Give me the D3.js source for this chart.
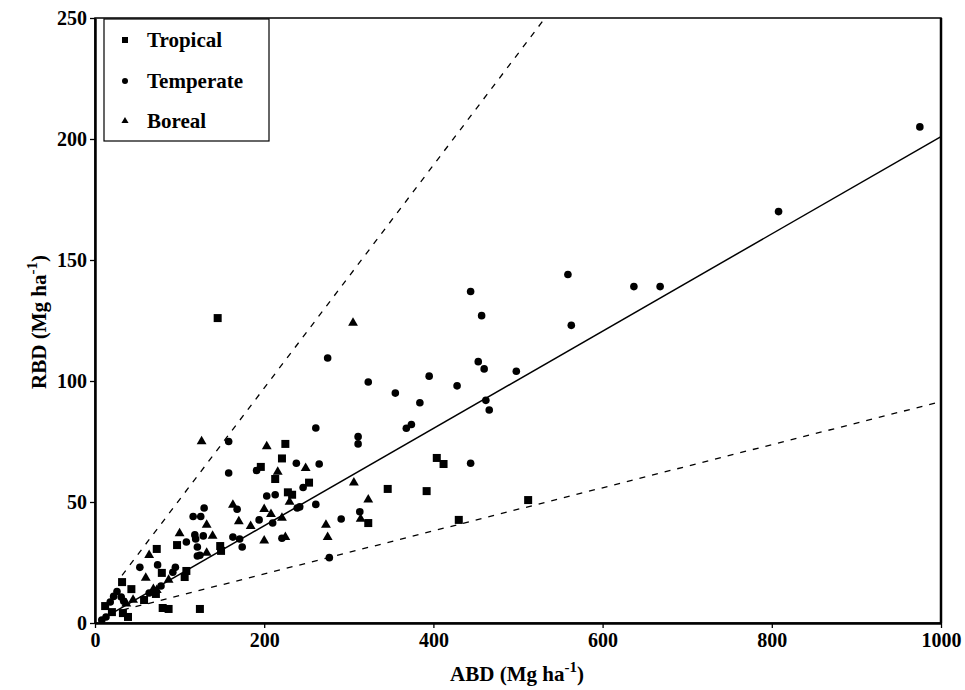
<!DOCTYPE html>
<html><head><meta charset="utf-8">
<script src="https://cdn.jsdelivr.net/npm/d3@7"></script>
<style>body{margin:0;background:#fff}svg text{font-family:"Liberation Serif","Times New Roman",serif;font-weight:bold}</style>
</head><body><svg id="c" width="965" height="690"></svg>
<script>
const xTicks=[0,200,400,600,800,1000];
const yTicks=[0,50,100,150,200,250];
const tropical=[[145,126],[225,74],[221,68],[196,64.5],[213,59.5],[228,54],[233,53],[253,58],[323,41.3],[346,55.4],[392,54.5],[404,68.2],[412,65.7],[430,42.6],[512,50.8],[148,31.8],[149,29.8],[108,21.5],[106,19],[124,5.8],[73,30.6],[97,32.2],[79,20.7],[32,16.9],[43,14],[72,12],[58,9.5],[12,7],[33,4.1],[39,2.5],[80,6.2],[87,5.8],[20,4.5]];
const temperate=[[975,205],[808,170],[668,139],[637,139],[559,144],[563,123],[444,137],[457,127],[498,104],[453,108],[460,105],[462,92],[466,88],[428,98],[395,102],[384,91],[368,80.5],[374,82],[444,66],[355,95],[323,99.6],[275,109.5],[261,80.6],[311,77],[311,74],[238,66],[265,65.7],[246,56],[239,47.5],[242,48],[261,49],[291,43],[313,46],[277,27],[221,35],[158,75],[158,62],[191,63],[203,52.5],[213,53],[168,47],[129,47.5],[116,44],[125,44],[128,36],[118,36.4],[119,34.7],[163,35.5],[171,34.7],[174,31.4],[194,42.6],[210,41.3],[121,27.7],[121,31.4],[108,33.5],[53,23],[74,24],[95,23],[124,28],[78,15.3],[64,12.4],[26,13],[31,10.7],[34,9],[22,11],[18,8.7],[92,21],[13,2.5],[8,1.2]];
const boreal=[[305,124],[126,75],[203,73],[216,62.4],[249,64],[306,58],[323,51],[314,43],[273,40.5],[275,35.5],[230,50],[221,43.4],[225,35.5],[163,48.8],[200,47],[208,45],[170,42],[184,40],[132,40.5],[139,36],[200,34],[100,37],[132,29],[64,28],[60,18.6],[87,17.8],[69,14],[73,13.6],[45,9.5],[37,8]];
const fitLine=[[5,1],[1000,201]];
const upperLine=[[32,19.7],[532,250]];
const lowerLine=[[33,5.4],[1000,91.5]];
const legendLabels=["Tropical","Temperate","Boreal"];

const svg=d3.select("#c");
const L=95,R=941,T=18,B=623;
const x=d3.scaleLinear().domain([0,1000]).range([L,R]);
const y=d3.scaleLinear().domain([0,250]).range([B,T]);
const line=d3.line().x(d=>x(d[0])).y(d=>y(d[1]));

svg.append("path").datum(fitLine).attr("d",line).attr("stroke","#000").attr("stroke-width",1.5).attr("fill","none");
[upperLine,lowerLine].forEach(l=>svg.append("path").datum(l).attr("d",line).attr("stroke","#000").attr("stroke-width",1.3).attr("stroke-dasharray","6,7").attr("fill","none"));

const g=svg.append("g");
g.selectAll(".sq").data(tropical).join("rect").attr("x",d=>x(d[0])-4).attr("y",d=>y(d[1])-4).attr("width",8).attr("height",8).attr("fill","#000");
g.selectAll(".ci").data(temperate).join("circle").attr("cx",d=>x(d[0])).attr("cy",d=>y(d[1])).attr("r",3.8).attr("fill","#000");
const tri=d3.symbol().type(d3.symbolTriangle).size(42);
g.selectAll(".tr").data(boreal).join("path").attr("d",tri).attr("transform",d=>`translate(${x(d[0])},${y(d[1])})`).attr("fill","#000");

// frame
svg.append("rect").attr("x",L).attr("y",T).attr("width",R-L).attr("height",B-T).attr("fill","none").attr("stroke","#000").attr("stroke-width",1.5);
svg.append("line").attr("x1",R).attr("x2",R).attr("y1",T).attr("y2",B).attr("stroke","#000").attr("stroke-width",2.5);

const xa=svg.append("g").attr("transform",`translate(0,${B})`).call(d3.axisBottom(x).tickValues(xTicks).tickFormat(d3.format("d")).tickSize(5).tickSizeOuter(0).tickPadding(5));
const ya=svg.append("g").attr("transform",`translate(${L},0)`).call(d3.axisLeft(y).tickValues(yTicks).tickFormat(d3.format("d")).tickSize(5).tickSizeOuter(0).tickPadding(3));
[xa,ya].forEach(a=>{a.select(".domain").attr("stroke-width",2.5);a.selectAll(".tick line").attr("stroke-width",1.3);a.selectAll("text").attr("font-size",20).attr("font-family","Liberation Serif").attr("font-weight","bold").attr("fill","#000");});

// titles
const xt=svg.append("text").attr("x",517).attr("y",681).attr("text-anchor","middle").attr("font-size",21);
xt.append("tspan").text("ABD (Mg ha");
xt.append("tspan").attr("dy",-9).attr("font-size",15).text("-1");
xt.append("tspan").attr("dy",9).text(")");
const yt=svg.append("text").attr("transform","translate(46,322) rotate(-90)").attr("text-anchor","middle").attr("font-size",21);
yt.append("tspan").text("RBD (Mg ha");
yt.append("tspan").attr("dy",-9).attr("font-size",15).text("-1");
yt.append("tspan").attr("dy",9).text(")");

// legend
svg.append("rect").attr("x",104).attr("y",19).attr("width",165).attr("height",122).attr("fill","#fff").attr("stroke","#000").attr("stroke-width",1.2);
const lg=svg.append("g");
const ly=[40,81,121];
lg.append("rect").attr("x",122).attr("y",ly[0]-3).attr("width",6).attr("height",6).attr("fill","#000");
lg.append("circle").attr("cx",125).attr("cy",ly[1]).attr("r",3).attr("fill","#000");
lg.append("path").attr("d",d3.symbol().type(d3.symbolTriangle).size(22)).attr("transform",`translate(125,${ly[2]})`).attr("fill","#000");
legendLabels.forEach((t,i)=>lg.append("text").attr("x",147).attr("y",ly[i]+7).attr("font-size",21).text(t));
</script></body></html>
